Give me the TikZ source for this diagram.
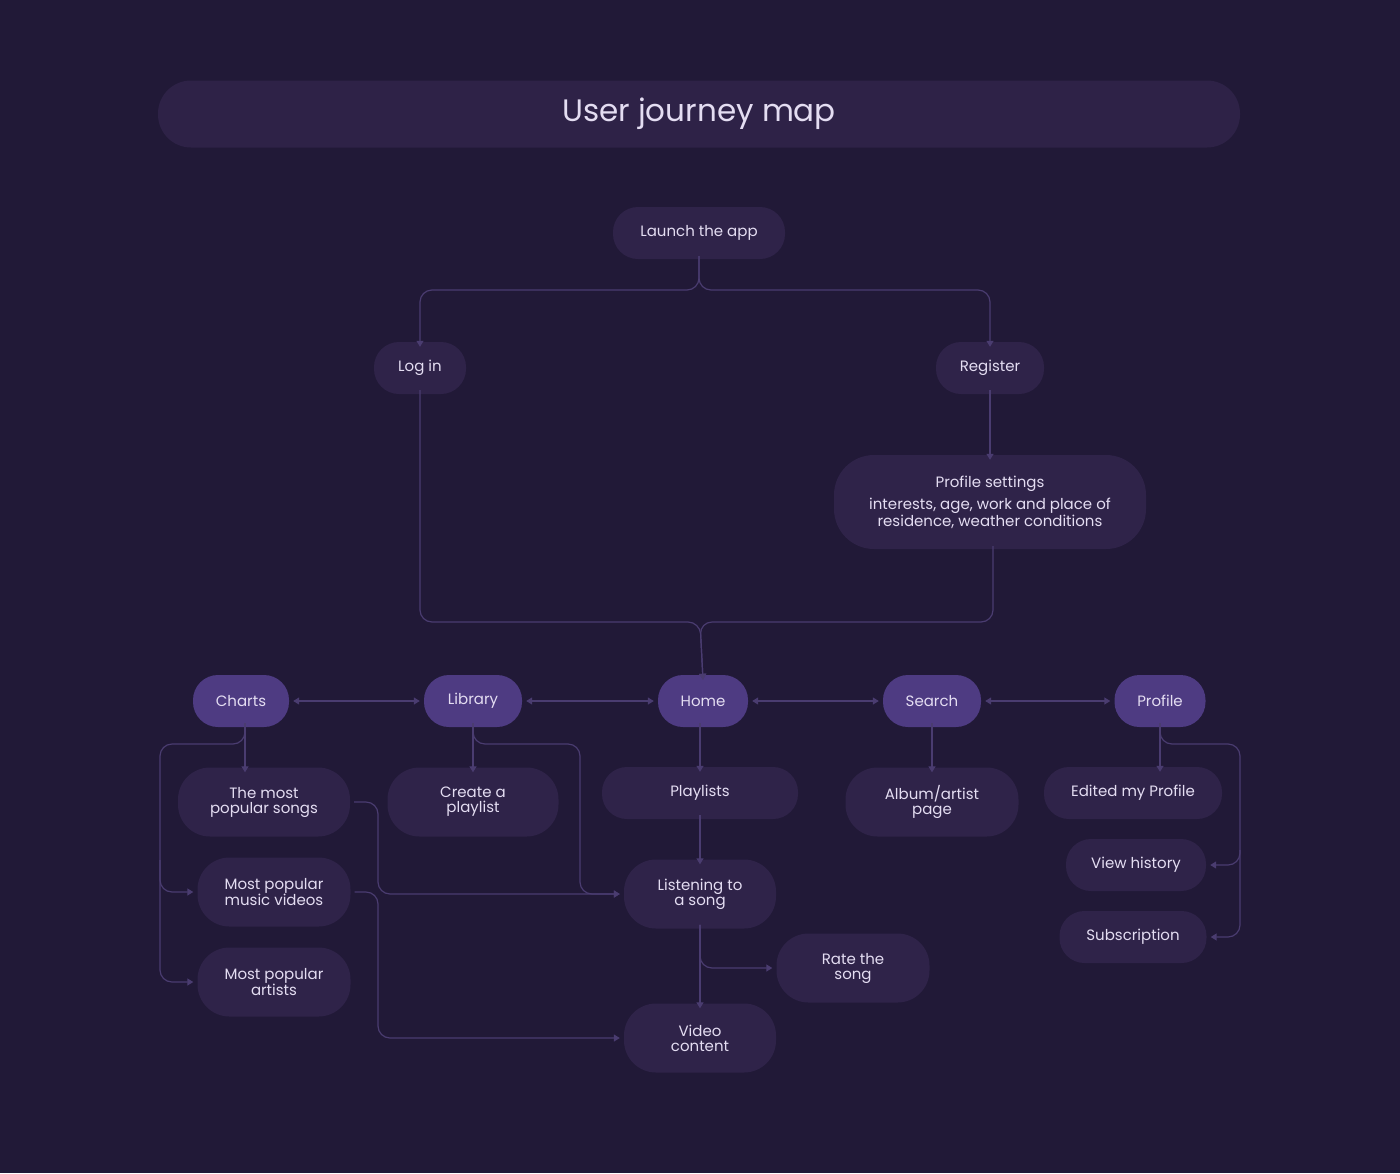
\documentclass[tikz,border=0pt]{standalone}
\usepackage{fontspec}
\setmainfont{Poppins}
\usetikzlibrary{arrows.meta}
\definecolor{bg}{HTML}{211937}
\definecolor{nodefill}{HTML}{2F2349}
\definecolor{hi}{HTML}{4E3B82}
\definecolor{ln}{HTML}{4A3C70}
\definecolor{txt}{HTML}{E4DDF2}
\tikzset{
 box/.style={rounded corners=25pt,fill=nodefill,text=txt,font=\fontsize{15}{15}\selectfont,align=center,inner sep=0pt},
 hibox/.style={box,fill=hi},
 con/.style={draw=ln,line width=1.2pt,rounded corners=12pt,-{Triangle[width=7pt,length=6pt]}},
 dcon/.style={con,{Triangle[width=7pt,length=6pt]}-{Triangle[width=7pt,length=6pt]}},
 plain/.style={draw=ln,line width=1.2pt,rounded corners=12pt}
}
\begin{document}
\begin{tikzpicture}[x=1pt,y=-1pt]
\fill[bg] (0,0) rectangle (1400,1173);
\useasboundingbox (0,0) rectangle (1400,1173);
\node[box,rounded corners=33pt,minimum width=1082pt,minimum height=67pt,font=\fontsize{31}{31}\selectfont,fill=nodefill!90!bg] (title) at (699,114) {User journey map};
\node[box,minimum width=172pt,minimum height=52pt] (launch) at (699,233) {Launch the app};
\node[box,minimum width=92pt,minimum height=52pt] (login) at (420,368) {Log in};
\node[box,minimum width=108pt,minimum height=52pt] (reg) at (990,368) {Register};
\node[box,rounded corners=40pt,minimum width=312pt,minimum height=94pt] (ps) at (990,502) {Profile settings\\[6pt]interests, age, work and place of\\residence, weather conditions};
\node[hibox,minimum width=96pt,minimum height=52pt] (charts) at (241,701) {Charts};
\node[hibox,minimum width=98pt,minimum height=52pt] (lib) at (473,701) {Library};
\node[hibox,minimum width=90pt,minimum height=52pt] (home) at (703,701) {Home};
\node[hibox,minimum width=98pt,minimum height=52pt] (search) at (932,701) {Search};
\node[hibox,minimum width=91pt,minimum height=52pt] (prof) at (1160,701) {Profile};
\node[box,minimum width=172pt,minimum height=69pt,rounded corners=32pt] (songs) at (264,802) {The most\\popular songs};
\node[box,minimum width=171pt,minimum height=69pt,rounded corners=32pt] (create) at (473,802) {Create a\\playlist};
\node[box,minimum width=196pt,minimum height=52pt] (pl) at (700,793) {Playlists};
\node[box,minimum width=173pt,minimum height=69pt,rounded corners=32pt] (album) at (932,802) {Album/artist\\page};
\node[box,minimum width=178pt,minimum height=52pt] (edit) at (1133,793) {Edited my Profile};
\node[box,minimum width=140pt,minimum height=52pt] (hist) at (1136,865) {View history};
\node[box,minimum width=147pt,minimum height=52pt] (sub) at (1133,937) {Subscription};
\node[box,minimum width=153pt,minimum height=69pt,rounded corners=32pt] (vids) at (274,892) {Most popular\\music videos};
\node[box,minimum width=153pt,minimum height=69pt,rounded corners=32pt] (arts) at (274,982) {Most popular\\artists};
\node[box,minimum width=152pt,minimum height=69pt,rounded corners=32pt] (listen) at (700,894) {Listening to\\a song};
\node[box,minimum width=153pt,minimum height=69pt,rounded corners=32pt] (rate) at (853,968) {Rate the\\song};
\node[box,minimum width=152pt,minimum height=69pt,rounded corners=32pt] (video) at (700,1038) {Video\\content};
% top branch
\draw[con] ([yshift=3pt]launch.south) -- (699,290) -| ([yshift=-5pt]login.north);
\draw[con] ([yshift=3pt]launch.south) -- (699,290) -| ([yshift=-5pt]reg.north);
\draw[con] ([yshift=4pt]reg.south) -- ([yshift=-5pt]ps.north);
\draw[con] ([yshift=4pt]login.south) |- (700,622) -- ([yshift=-5pt]home.north);
\draw[con] ([xshift=3pt,yshift=3pt]ps.south) |- (700,622) -- ([yshift=-5pt]home.north);
% horizontals
\draw[dcon] ([xshift=4pt]charts.east) -- ([xshift=-4pt]lib.west);
\draw[dcon] ([xshift=4pt]lib.east) -- ([xshift=-4pt]home.west);
\draw[dcon] ([xshift=4pt]home.east) -- ([xshift=-4pt]search.west);
\draw[dcon] ([xshift=4pt]search.east) -- ([xshift=-4pt]prof.west);
% charts
\draw[con] ([xshift=4pt,yshift=4pt]charts.south) -- ([xshift=-19pt,yshift=-5pt]songs.north);
\draw[con] ([xshift=4pt,yshift=4pt]charts.south) |- (160,744) |- ([xshift=-4pt]vids.west);
\draw[con] (160,860) |- ([xshift=-4pt]arts.west);
% library
\draw[con] ([yshift=4pt]lib.south) -- ([yshift=-5pt]create.north);
\draw[con] ([yshift=4pt]lib.south) |- (580,744) |- ([xshift=-4pt]listen.west);
\draw[con] ([xshift=4pt]songs.east) -| (378,860) |- ([xshift=-4pt]listen.west);
\draw[con] ([xshift=4pt]vids.east) -| (378,1000) |- ([xshift=-4pt]video.west);
% home
\draw[con] ([xshift=-3pt,yshift=4pt]home.south) -- ([yshift=-5pt]pl.north);
\draw[con] ([yshift=4pt]pl.south) -- ([yshift=-5pt]listen.north);
\draw[con] ([yshift=4pt]listen.south) -- ([yshift=-5pt]video.north);
\draw[con] ([yshift=4pt]listen.south) |- ([xshift=-4pt]rate.west);
% search
\draw[con] ([yshift=4pt]search.south) -- ([yshift=-5pt]search.south |- album.north);
% profile
\draw[con] ([yshift=4pt]prof.south) -- ([yshift=-5pt]prof.south |- edit.north);
\draw[con] ([yshift=4pt]prof.south) |- (1240,744) |- ([xshift=4pt]hist.east);
\draw[con] (1240,850) |- ([xshift=4pt]sub.east);
\end{tikzpicture}
\end{document}
